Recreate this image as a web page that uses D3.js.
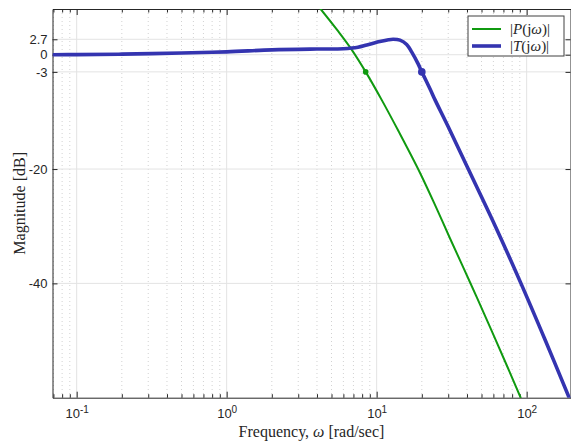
<!DOCTYPE html>
<html>
<head>
<meta charset="utf-8">
<script src="https://cdn.jsdelivr.net/npm/d3@7"></script>
<style>
  body { margin: 0; background: #fff; }
  svg { display: block; font-family: "Liberation Serif", "DejaVu Serif", serif; }
  .grid-major line { stroke: #e3e3e3; stroke-width: 1; }
  .grid-minor line { stroke: #d2d2d2; stroke-width: 1; stroke-dasharray: 1,3; }
  .axis path, .axis line { stroke: #262626; }
  .axis text { font-size: 13px; fill: #262626; }
</style>
</head>
<body>
<svg id="chart" width="571" height="445"></svg>
<script>
'use strict';

// data (rad/sec, dB)
var omegaP = [3.5, 4.23, 5.5, 6.81, 8.45, 10.8, 14, 19.4, 25, 30.8, 41.9, 56.9, 75, 91.2, 100];
var magP   = [10.6, 8, 4.2, 0.9, -3, -7.9, -13.4, -20.6, -26.8, -32.1, -39.8, -47.6, -54.8, -60, -62.4];

var omegaT = [0.069, 0.1, 0.2, 0.5, 1, 2, 4, 6, 7.5, 8.6, 10.5, 12, 12.9, 14.3, 15.85, 17.1, 18.9, 20,
              22.7, 24.5, 30, 40.8, 61.8, 91.6, 133.3, 192, 200];
var magT   = [0, 0.02, 0.1, 0.3, 0.5, 0.85, 1.0, 1.05, 1.3, 1.7, 2.3, 2.62, 2.7, 2.55, 1.8, 0.5, -1.6, -3,
              -6.0, -7.9, -12.6, -20, -30, -40, -50, -60, -61.1];

// -3 dB points
var bwP = [8.45, -3];
var bwT = [20, -3];

var yTicks = [-40, -20, -3, 0, 2.7];
var yTickLabels = ['-40', '-20', '-3', '0', '2.7'];
var xTicks = [0.1, 1, 10, 100];
var xTickExp = ['-1', '0', '1', '2'];
var xMinor = [];
[0.01, 0.1, 1, 10, 100].forEach(function (d) {
  for (var k = 2; k <= 9; k++) xMinor.push(d * k);
});

var svg = d3.select('#chart');
var pLeft = 52.5, pRight = 570.5, pTop = 9, pBottom = 397.7;

var x = d3.scaleLog().domain([0.069, 196]).range([pLeft, pRight]);
var y = d3.scaleLinear().domain([-60, 8]).range([pBottom, pTop]);
var xMin = xMinor.filter(function (d) { return d > x.domain()[0] && d < x.domain()[1]; });

svg.append('defs').append('clipPath').attr('id', 'clip')
  .append('rect').attr('x', pLeft).attr('y', pTop)
  .attr('width', pRight - pLeft).attr('height', pBottom - pTop);

// grid
svg.append('g').attr('class', 'grid-minor')
  .selectAll('line').data(xMin).enter().append('line')
  .attr('x1', function (d) { return x(d); }).attr('x2', function (d) { return x(d); })
  .attr('y1', pTop).attr('y2', pBottom);

var gm = svg.append('g').attr('class', 'grid-major');
gm.selectAll('line.v').data(xTicks).enter().append('line').attr('class', 'v')
  .attr('x1', function (d) { return x(d); }).attr('x2', function (d) { return x(d); })
  .attr('y1', pTop).attr('y2', pBottom);
gm.selectAll('line.h').data(yTicks).enter().append('line').attr('class', 'h')
  .attr('x1', pLeft).attr('x2', pRight)
  .attr('y1', function (d) { return y(d); }).attr('y2', function (d) { return y(d); });

// axes, ticks pointing inward
var xAxis = svg.append('g').attr('class', 'axis')
  .attr('transform', 'translate(0,' + pBottom + ')')
  .call(d3.axisBottom(x).tickValues(xTicks).tickSizeInner(-6).tickSizeOuter(0).tickPadding(11));
xAxis.selectAll('text').each(function (d, i) {
  var t = d3.select(this).text('');
  t.append('tspan').text('10');
  t.append('tspan').attr('dy', '-0.45em').attr('font-size', '10px').text(xTickExp[i]);
});
svg.append('g').attr('class', 'axis')
  .attr('transform', 'translate(0,' + pBottom + ')')
  .call(d3.axisBottom(x).tickValues(xMin).tickSizeInner(-3.5).tickSizeOuter(0).tickFormat(''))
  .select('.domain').remove();

svg.append('g').attr('class', 'axis')
  .attr('transform', 'translate(0,' + pTop + ')')
  .call(d3.axisTop(x).tickValues(xTicks).tickSizeInner(-6).tickSizeOuter(0).tickFormat(''));
svg.append('g').attr('class', 'axis')
  .attr('transform', 'translate(0,' + pTop + ')')
  .call(d3.axisTop(x).tickValues(xMin).tickSizeInner(-3.5).tickSizeOuter(0).tickFormat(''))
  .select('.domain').remove();

svg.append('g').attr('class', 'axis')
  .attr('transform', 'translate(' + pLeft + ',0)')
  .call(d3.axisLeft(y).tickValues(yTicks).tickSizeInner(-5).tickSizeOuter(0).tickPadding(5)
    .tickFormat(function (d, i) { return yTickLabels[i]; }));
svg.append('g').attr('class', 'axis')
  .attr('transform', 'translate(' + pRight + ',0)')
  .call(d3.axisRight(y).tickValues(yTicks).tickSizeInner(-5).tickSizeOuter(0).tickFormat(''));

// curves
var line = d3.line()
  .x(function (d) { return x(d[0]); })
  .y(function (d) { return y(d[1]); })
  .curve(d3.curveCatmullRom.alpha(0.5));

var plot = svg.append('g').attr('clip-path', 'url(#clip)');
plot.append('path')
  .datum(d3.zip(omegaP, magP))
  .attr('d', line).attr('fill', 'none')
  .attr('stroke', '#109a10').attr('stroke-width', 2);
plot.append('path')
  .datum(d3.zip(omegaT, magT))
  .attr('d', line).attr('fill', 'none')
  .attr('stroke', '#3434b0').attr('stroke-width', 3.6);

plot.append('circle').attr('cx', x(bwP[0])).attr('cy', y(bwP[1])).attr('r', 2.8).attr('fill', '#109a10');
plot.append('circle').attr('cx', x(bwT[0])).attr('cy', y(bwT[1])).attr('r', 3.8).attr('fill', '#3434b0');

// labels
svg.append('text')
  .attr('x', (pLeft + pRight) / 2).attr('y', 437)
  .attr('text-anchor', 'middle').attr('font-size', '16px').attr('fill', '#262626')
  .html('Frequency, <tspan font-style="italic">ω</tspan> [rad/sec]');
svg.append('text')
  .attr('transform', 'translate(25,' + ((pTop + pBottom) / 2) + ') rotate(-90)')
  .attr('text-anchor', 'middle').attr('font-size', '16px').attr('fill', '#262626')
  .text('Magnitude [dB]');

// legend
var lg = svg.append('g').attr('transform', 'translate(468,16)');
lg.append('rect').attr('width', 96).attr('height', 40)
  .attr('fill', '#fff').attr('stroke', '#404040').attr('stroke-width', 1);
var legendItems = [
  { name: 'P', color: '#109a10', width: 2 },
  { name: 'T', color: '#3434b0', width: 3.6 }
];
legendItems.forEach(function (it, i) {
  var yy = 13 + i * 17;
  lg.append('line').attr('x1', 4).attr('x2', 33).attr('y1', yy).attr('y2', yy)
    .attr('stroke', it.color).attr('stroke-width', it.width);
  lg.append('text').attr('x', 42).attr('y', yy + 5).attr('font-size', '15px').attr('fill', '#262626')
    .html('|<tspan font-style="italic">' + it.name + '</tspan>(j<tspan font-style="italic">ω</tspan>)|');
});
</script>
</body>
</html>
